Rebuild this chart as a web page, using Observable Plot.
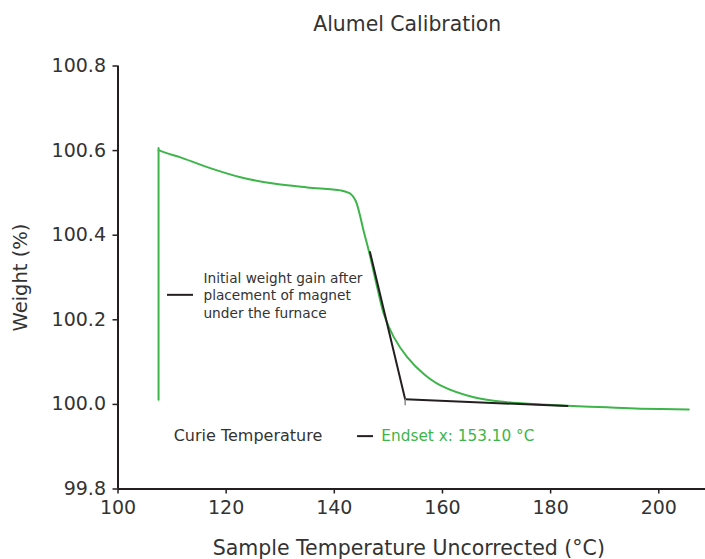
<!DOCTYPE html>
<html><head><meta charset="utf-8">
<script src="https://cdn.jsdelivr.net/npm/d3@7"></script>
<script src="https://cdn.jsdelivr.net/npm/@observablehq/plot@0.6"></script>
<style>body{margin:0;background:#fff;} #chart svg{display:block;}</style>
</head><body><div id="chart"></div>
<script>
// Sample temperature (°C) and weight (%)
const gainTemp = [107.5, 107.5];
const gainWeight = [100.011, 100.606];
const curveTemp = [107.5, 109.0, 111.56, 116.49, 122.65, 128.75, 134.99, 141.15, 142.99, 143.92, 144.53, 145.40, 146.4, 147.93, 149.15, 151.00, 153.48, 156.55, 159.63, 165.79, 171.97, 178.13, 183.06, 190.46, 196.62, 205.55];
const curveWeight = [100.601, 100.594, 100.584, 100.561, 100.537, 100.522, 100.513, 100.506, 100.498, 100.482, 100.458, 100.411, 100.362, 100.277, 100.214, 100.159, 100.112, 100.072, 100.045, 100.017, 100.005, 100.000, 99.997, 99.993, 99.990, 99.988];
const tangentTemp1 = [146.6, 153.1];
const tangentWeight1 = [100.360, 100.012];
const tangentTemp2 = [153.1, 183.1];
const tangentWeight2 = [100.012, 99.996];
const endsetTemp = [153.1];
const endsetTop = [100.013];
const endsetBottom = [99.997];
const xTicks = [100, 120, 140, 160, 180, 200];
const yTicks = [99.8, 100.0, 100.2, 100.4, 100.6, 100.8];
const titleText = "Alumel Calibration";
const xLabel = "Sample Temperature Uncorrected (°C)";
const yLabel = "Weight (%)";
const note1 = "Initial weight gain after\nplacement of magnet\nunder the furnace";
const note2 = "Curie Temperature";
const note3 = "Endset x: 153.10 °C";

const green = "#3db54a";
const ink = "#231f20";
const txt = "#333333";
const font = "DejaVu Sans";

const toRows = (xs, ys) => xs.map((x, i) => ({x, y: ys[i]}));

const chart = Plot.plot({
  width: 705,
  height: 559,
  marginLeft: 117.5,
  marginRight: 0,
  marginTop: 65.5,
  marginBottom: 70.5,
  style: {fontFamily: font, background: "#fff"},
  x: {domain: [100, 208.64]},
  y: {domain: [99.8, 100.8]},
  marks: [
    Plot.axisX({ticks: xTicks, tickSize: 5, tickPadding: 6, fontSize: 19, label: null, stroke: ink, color: txt, strokeWidth: 1.5}),
    Plot.axisY({ticks: yTicks, tickSize: 5, tickPadding: 7, fontSize: 19, label: null, tickFormat: d3.format(".1f"), stroke: ink, color: txt, strokeWidth: 1.5}),
    Plot.ruleX([100], {y1: 99.8, y2: 100.8, stroke: ink, strokeWidth: 2}),
    Plot.ruleY([99.8], {stroke: ink, strokeWidth: 2}),
    Plot.line(toRows(gainTemp, gainWeight), {x: "x", y: "y", stroke: green, strokeWidth: 2}),
    Plot.line(toRows(curveTemp, curveWeight), {x: "x", y: "y", stroke: green, strokeWidth: 2, curve: "catmull-rom"}),
    Plot.line(toRows(tangentTemp1, tangentWeight1), {x: "x", y: "y", stroke: ink, strokeWidth: 2}),
    Plot.line(toRows(tangentTemp2, tangentWeight2), {x: "x", y: "y", stroke: ink, strokeWidth: 2}),
    Plot.ruleX(endsetTemp, {x: d => d, y1: endsetTop[0], y2: endsetBottom[0], stroke: "#8a8a8a", strokeWidth: 1.5}),
    // annotation legend lines
    Plot.ruleY([100.259], {x1: 109.15, x2: 113.96, stroke: ink, strokeWidth: 2}),
    Plot.text([note1], {x: 115.8, y: 100.259, text: d => d, textAnchor: "start", lineAnchor: "middle", fontSize: 13.7, lineHeight: 1.28, fill: txt}),
    Plot.text([note2], {x: 110.3, y: 99.925, text: d => d, textAnchor: "start", fontSize: 16, fill: txt}),
    Plot.ruleY([99.925], {x1: 144.3, x2: 147.25, stroke: ink, strokeWidth: 2}),
    Plot.text([note3], {x: 148.7, y: 99.925, text: d => d, textAnchor: "start", fontSize: 15.3, fill: green}),
    // title and axis labels
    Plot.text([titleText], {frameAnchor: "top", lineAnchor: "middle", dx: -4.5, dy: -41.5, text: d => d, fontSize: 20.4, fill: txt}),
    Plot.text([xLabel], {frameAnchor: "bottom", lineAnchor: "middle", dx: -3, dy: 59.5, text: d => d, fontSize: 20.5, fill: txt}),
    Plot.text([yLabel], {frameAnchor: "left", textAnchor: "middle", dx: -97.5, rotate: -90, text: d => d, fontSize: 19.5, fill: txt})
  ]
});
document.getElementById("chart").appendChild(chart);
</script>
</body></html>
